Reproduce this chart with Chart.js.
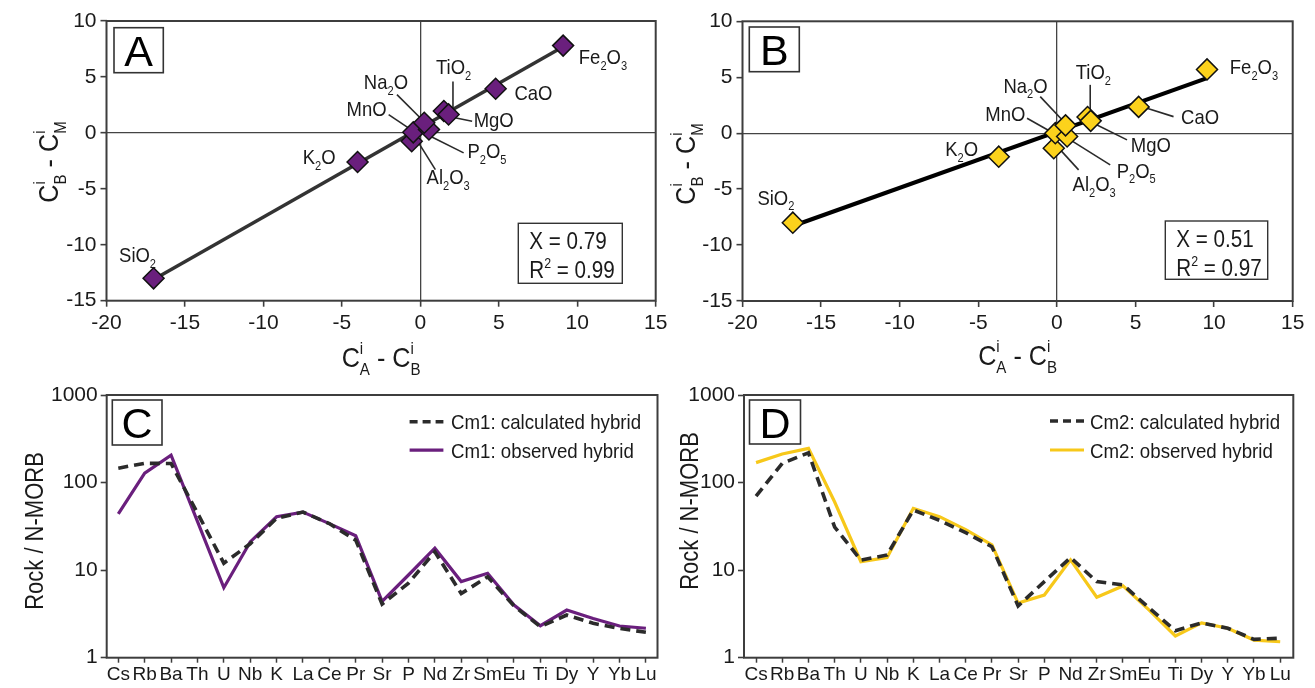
<!DOCTYPE html>
<html><head><meta charset="utf-8">
<script src="https://cdn.jsdelivr.net/npm/chart.js@4.4.1/dist/chart.umd.min.js"></script>
<style>
html,body{margin:0;padding:0;background:#fff;width:1315px;height:688px;overflow:hidden}
canvas{position:absolute;left:0;top:0}
</style></head><body>
<canvas id="cA" width="1315" height="688"></canvas>
<canvas id="cB" width="1315" height="688"></canvas>
<canvas id="cC" width="1315" height="688"></canvas>
<canvas id="cD" width="1315" height="688"></canvas>
<script>
// ---------------- DATA ----------------
const oxides = ['SiO_2','K_2O','Al_2O_3','MnO','P_2O_5','Na_2O','TiO_2','MgO','CaO','Fe_2O_3'];
// Panel A : x = C_A - C_B , y = C_B - C_M
const dxA = [-17.0, -4.0, -0.55, -0.45, 0.55, 0.25, 1.5, 1.8, 4.8, 9.1];
const dyA = [-13.0, -2.6, -0.75, 0.05, 0.3, 0.9, 1.95, 1.65, 3.95, 7.8];
const fitXA = [-17.0, 9.1];
const fitYA = [-13.1, 7.7];
const statsA = ['X = 0.79', 'R^2 = 0.99'];
// Panel B
const dxB = [-16.8, -3.7, -0.2, -0.1, 0.65, 0.55, 1.95, 2.15, 5.2, 9.55];
const dyB = [-8.0, -2.1, -1.35, 0.0, -0.3, 0.7, 1.45, 1.1, 2.35, 5.7];
const fitXB = [-16.8, 9.5];
const fitYB = [-8.3, 4.9];
const statsB = ['X = 0.51', 'R^2 = 0.97'];
const xTicksAB = [-20, -15, -10, -5, 0, 5, 10, 15];
const yTicksAB = [-15, -10, -5, 0, 5, 10];
// Panels C, D : spider diagrams (Rock / N-MORB)
const elements = ['Cs','Rb','Ba','Th','U','Nb','K','La','Ce','Pr','Sr','P','Nd','Zr','Sm','Eu','Ti','Dy','Y','Yb','Lu'];
const cm1Calc = [146, 166, 165, 45, 12, 20, 39, 46, 34, 22, 4.1, 7.1, 16.2, 5.4, 8.4, 3.9, 2.26, 3.07, 2.47, 2.16, 1.95];
const cm1Obs  = [44, 128, 205, 36, 6.3, 21, 40.7, 46, 34, 24.7, 4.4, 8.8, 17.8, 7.4, 9.2, 4.0, 2.32, 3.5, 2.8, 2.3, 2.17];
const cm2Calc = [70, 166, 219, 31, 13, 14.9, 48.6, 37, 26.8, 18.5, 3.9, 7.4, 13.9, 7.4, 6.8, 3.7, 2.03, 2.5, 2.17, 1.62, 1.67];
const cm2Obs  = [169, 212, 246, 60, 12.5, 13.9, 50.8, 40.8, 29, 19.4, 4.2, 5.2, 13.1, 4.9, 6.6, 3.5, 1.77, 2.5, 2.17, 1.59, 1.52];
const yTicksLog = [1, 10, 100, 1000];

// ---------------- FONTS ----------------
const FF = '"Liberation Sans", Arial, sans-serif';
Chart.defaults.font.family = FF;
Chart.defaults.color = '#1a1a1a';

const PURPLE = '#6a1f7d';
const YELLOW = '#fcd21c';
const YLINE = '#f7c81a';
const AXC = '#3d3d3d';
const TXT = '#1a1a1a';

// ---------------- HELPERS ----------------
function richTokens(s){
  const out=[]; let i=0;
  while(i<s.length){
    const ch=s[i];
    if(ch==='^' && s[i+2]==='_'){ out.push({k:'ss', sup:s[i+1], sub:s[i+3]}); i+=4; }
    else if(ch==='^'){ out.push({k:'sup', t:s[i+1]}); i+=2; }
    else if(ch==='_'){ out.push({k:'sub', t:s[i+1]}); i+=2; }
    else { let j=i; while(j<s.length && s[j]!=='^' && s[j]!=='_') j++; out.push({k:'n', t:s.slice(i,j)}); i=j; }
  }
  return out;
}
// draws text with sub/superscripts; sx = horizontal condensing factor
function drawRich(ctx, s, x, y, size, align, sx){
  sx = sx || 1;
  const small = size*0.6;
  const fMain = size+'px '+FF, fSmall = small+'px '+FF;
  const toks = richTokens(s);
  let w=0;
  for(const t of toks){
    ctx.font = t.k==='n' ? fMain : fSmall;
    t.w = t.k==='ss' ? Math.max(ctx.measureText(t.sup).width, ctx.measureText(t.sub).width) : ctx.measureText(t.t).width;
    w += t.w;
  }
  const W = w*sx;
  const x0 = align==='center' ? x-W/2 : (align==='right' ? x-W : x);
  ctx.save();
  ctx.translate(x0, y); ctx.scale(sx, 1);
  ctx.textAlign='left'; ctx.textBaseline='alphabetic';
  let cx = 0;
  for(const t of toks){
    if(t.k==='n'){ ctx.font=fMain; ctx.fillText(t.t, cx, 0); }
    else {
      ctx.font=fSmall;
      if(t.k==='sub') ctx.fillText(t.t, cx, size*0.27);
      if(t.k==='sup') ctx.fillText(t.t, cx, -size*0.42);
      if(t.k==='ss'){ ctx.fillText(t.sub, cx, size*0.27); ctx.fillText(t.sup, cx, -size*0.47); }
    }
    cx += t.w;
  }
  ctx.restore();
  return W;
}
function boxRect(ctx, x0, y0, x1, y1, lw){
  ctx.fillStyle='#fff'; ctx.fillRect(x0,y0,x1-x0,y1-y0);
  ctx.lineWidth=lw; ctx.strokeStyle='#333'; ctx.strokeRect(x0,y0,x1-x0,y1-y0);
}

// ---------------- PANEL DECORATION ----------------
function panelPlugin(cfg){
  return {
    id:'panel'+cfg.letter,
    beforeDatasetsDraw(chart){
      const ctx=chart.ctx, x=chart.scales.x, y=chart.scales.y;
      ctx.save(); ctx.strokeStyle='#2a2a2a'; ctx.lineWidth=1.6;
      for(const a of (cfg.annots||[])){
        if(!a.lead) continue;
        ctx.beginPath();
        ctx.moveTo(x.getPixelForValue(a.lead[0][0]), y.getPixelForValue(a.lead[0][1]));
        ctx.lineTo(x.getPixelForValue(a.lead[1][0]), y.getPixelForValue(a.lead[1][1]));
        ctx.stroke();
      }
      ctx.restore();
    },
    afterDraw(chart){
      const ctx=chart.ctx, ca=chart.chartArea, x=chart.scales.x, y=chart.scales.y;
      ctx.save();
      // frame
      ctx.lineWidth=2; ctx.strokeStyle=AXC; ctx.strokeRect(ca.left, ca.top, ca.right-ca.left, ca.bottom-ca.top);
      ctx.fillStyle=TXT;
      // point labels
      const ls = 21;
      for(const a of (cfg.annots||[])){
        drawRich(ctx, a.t, x.getPixelForValue(a.at[0]), y.getPixelForValue(a.at[1]) + ls*0.36, ls, 'left', 0.88);
      }
      // letter box
      const lb=cfg.lbox; boxRect(ctx, lb[0], lb[1], lb[2], lb[3], 1.6);
      ctx.fillStyle='#000'; ctx.font='43px '+FF; ctx.textAlign='center'; ctx.textBaseline='alphabetic';
      ctx.fillText(cfg.letter, (lb[0]+lb[2])/2, (lb[1]+lb[3])/2 + 15.5);
      // stats box
      if(cfg.stats){
        const sb=cfg.sbox; boxRect(ctx, sb[0], sb[1], sb[2], sb[3], 1.4);
        ctx.fillStyle=TXT;
        drawRich(ctx, cfg.stats[0], sb[0]+11, sb[1]+26, 24, 'left', 0.86);
        drawRich(ctx, cfg.stats[1], sb[0]+11, sb[1]+55, 24, 'left', 0.86);
      }
      // axis titles
      ctx.fillStyle=TXT;
      if(cfg.xTitle){
        drawRich(ctx, cfg.xTitle.t, (ca.left+ca.right)/2, cfg.xTitle.y, 28, 'center', 0.9);
      }
      if(cfg.yTitle){
        ctx.save(); ctx.translate(cfg.yTitle.x, cfg.yTitle.cy); ctx.rotate(-Math.PI/2);
        drawRich(ctx, cfg.yTitle.t, 0, 0, cfg.yTitle.size, 'center', cfg.yTitle.sx);
        ctx.restore();
      }
      // legend from datasets
      if(cfg.legend){
        const L=cfg.legend;
        chart.data.datasets.forEach((ds,i)=>{
          const yy = L.y + i*L.dy;
          ctx.save();
          ctx.strokeStyle=ds.borderColor; ctx.lineWidth=ds.borderWidth;
          ctx.setLineDash(ds.legendDash || []);
          ctx.beginPath(); ctx.moveTo(L.x0, yy); ctx.lineTo(L.x1, yy); ctx.stroke();
          ctx.restore();
          ctx.fillStyle=TXT;
          drawRich(ctx, ds.label, L.tx, yy + 7.5, 21, 'left', 0.89);
        });
      }
      ctx.restore();
    }
  };
}

function fixedAxes(xh, yw){
  return {
    x: s => { s.height = xh; s.paddingLeft = 0; s.paddingRight = 0; },
    y: s => { s.width = yw; s.paddingTop = 0; s.paddingBottom = 0; }
  };
}

// ---------------- SCATTER PANELS A/B ----------------
function scatterPanel(id, rect, dx, dy, fitX, fitY, fill, lineColor, lineW, cfg){
  const YW=70, XH=60;
  const pts = dx.map((v,i)=>({x:v, y:dy[i]}));
  const fit = fitX.map((v,i)=>({x:v, y:fitY[i]}));
  const fa = fixedAxes(XH, YW);
  return new Chart(document.getElementById(id), {
    type:'scatter',
    data:{ datasets:[
      { label:'oxides', data:pts, pointStyle:'rectRot', pointRadius:10.5, backgroundColor:fill, borderColor:'#111', borderWidth:1.5, order:0 },
      { label:'fit', data:fit, showLine:true, pointRadius:0, borderColor:lineColor, borderWidth:lineW, order:1 }
    ]},
    options:{
      responsive:false, animation:false, events:[], devicePixelRatio:1,
      layout:{ padding:{ left:rect.l-YW, top:rect.t, right:1315-rect.r, bottom:688-rect.b-XH } },
      plugins:{ legend:{display:false}, tooltip:{enabled:false} },
      scales:{
        x:{ type:'linear', min:-20, max:15,
            afterBuildTicks: s=>{ s.ticks = xTicksAB.map(v=>({value:v})); },
            afterFit: fa.x,
            border:{display:false},
            grid:{ color: c => (c.tick && c.tick.value===0) ? '#444' : 'rgba(0,0,0,0)', lineWidth:1.3, tickColor:AXC, tickLength:6, tickWidth:1.6 },
            ticks:{ font:{size:21}, padding:4, maxRotation:0, autoSkip:false, color:TXT } },
        y:{ type:'linear', min:-15, max:10,
            afterBuildTicks: s=>{ s.ticks = yTicksAB.map(v=>({value:v})); },
            afterFit: fa.y,
            border:{display:false},
            grid:{ color: c => (c.tick && c.tick.value===0) ? '#444' : 'rgba(0,0,0,0)', lineWidth:1.3, tickColor:AXC, tickLength:6, tickWidth:1.6 },
            ticks:{ font:{size:21}, padding:4, color:TXT } }
      }
    },
    plugins:[panelPlugin(cfg)]
  });
}

const annotA = [
  {t:'Fe_2O_3', at:[10.1, 6.8]},
  {t:'CaO', at:[6.0, 3.6]},
  {t:'TiO_2', at:[1.0, 5.9], lead:[[2.08,4.6],[2.08,2.1]]},
  {t:'MgO', at:[3.4, 1.2], lead:[[1.5,1.55],[3.3,1.04]]},
  {t:'Na_2O', at:[-3.6, 4.6], lead:[[-1.49,3.42],[0.21,1.04]]},
  {t:'MnO', at:[-4.7, 2.2], lead:[[-2.02,1.63],[-0.43,0.14]]},
  {t:'P_2O_5', at:[3.0, -1.6], lead:[[0.64,-0.3],[2.76,-1.79]]},
  {t:'Al_2O_3', at:[0.4, -3.9], lead:[[-0.11,-0.89],[0.96,-3.28]]},
  {t:'K_2O', at:[-7.5, -2.1]},
  {t:'SiO_2', at:[-19.2, -10.9]}
];
const annotB = [
  {t:'Fe_2O_3', at:[11.0, 5.95]},
  {t:'CaO', at:[7.9, 1.5], lead:[[5.73,2.23],[7.42,1.48]]},
  {t:'TiO_2', at:[1.2, 5.5], lead:[[2.12,4.32],[2.12,1.64]]},
  {t:'MgO', at:[4.7, -1.05], lead:[[2.33,0.89],[4.46,-0.6]]},
  {t:'Na_2O', at:[-3.4, 4.3], lead:[[-1.06,3.27],[0.43,1.04]]},
  {t:'MnO', at:[-4.55, 1.8], lead:[[-1.9,1.34],[-0.21,0.0]]},
  {t:'P_2O_5', at:[3.8, -3.3], lead:[[0.85,-0.6],[3.39,-2.83]]},
  {t:'Al_2O_3', at:[1.0, -4.5], lead:[[0.22,-1.49],[1.38,-3.28]]},
  {t:'K_2O', at:[-7.1, -1.35]},
  {t:'SiO_2', at:[-19.05, -5.7]}
];

scatterPanel('cA', {l:106.5,t:21,r:655.7,b:300.7}, dxA, dyA, fitXA, fitYA, PURPLE, '#333333', 3.5, {
  letter:'A', annots:annotA, lbox:[114,27.7,163.3,72.7], stats:statsA, sbox:[518.3,223.3,622.3,283.3],
  xTitle:{t:'C^i_A - C^i_B', y:367}, yTitle:{t:'C^i_B - C^i_M', x:58, cy:162, size:28, sx:0.9}
});
scatterPanel('cB', {l:742.5,t:21.3,r:1292.7,b:301}, dxB, dyB, fitXB, fitYB, YELLOW, '#000000', 4.2, {
  letter:'B', annots:annotB, lbox:[749.3,27,799.3,71.7], stats:statsB, sbox:[1165.3,221,1267.7,279.3],
  xTitle:{t:'C^i_A - C^i_B', y:365}, yTitle:{t:'C^i_B - C^i_M', x:695, cy:164, size:28, sx:0.9}
});

// ---------------- SPIDER PANELS C/D ----------------
function spiderPanel(id, rect, xmin, xmax, calc, obs, calcLabel, obsLabel, obsColor, cfg){
  const YW=70, XH=28;
  const fa = fixedAxes(XH, YW);
  const toPts = arr => arr.map((v,i)=>({x:i, y:v}));
  return new Chart(document.getElementById(id), {
    type:'line',
    data:{ datasets:[
      { label:calcLabel, data:toPts(calc), borderColor:'#2b2b2b', borderWidth:3.6, borderDash:[10,6], legendDash:[8,5], pointRadius:0, fill:false, tension:0, order:0 },
      { label:obsLabel, data:toPts(obs), borderColor:obsColor, borderWidth:3.2, pointRadius:0, fill:false, tension:0, order:1 }
    ]},
    options:{
      responsive:false, animation:false, events:[], devicePixelRatio:1,
      layout:{ padding:{ left:rect.l-YW, top:rect.t, right:1315-rect.r, bottom:688-rect.b-XH } },
      plugins:{ legend:{display:false}, tooltip:{enabled:false} },
      scales:{
        x:{ type:'linear', min:xmin, max:xmax,
            afterBuildTicks: s=>{ s.ticks = elements.map((e,i)=>({value:i})); },
            afterFit: fa.x,
            border:{display:false},
            grid:{ drawOnChartArea:false, color:AXC, tickColor:AXC, tickLength:5, tickWidth:1.5 },
            ticks:{ font:{size:19}, padding:1, maxRotation:0, autoSkip:false, color:TXT,
                    callback: v => elements[v] } },
        y:{ type:'logarithmic', min:1, max:1000,
            afterBuildTicks: s=>{ s.ticks = yTicksLog.map(v=>({value:v})); },
            afterFit: fa.y,
            border:{display:false},
            grid:{ drawOnChartArea:false, color:AXC, tickColor:AXC, tickLength:6, tickWidth:1.6 },
            ticks:{ font:{size:21}, padding:3, color:TXT, callback: v => String(v) } }
      }
    },
    plugins:[panelPlugin(cfg)]
  });
}

spiderPanel('cC', {l:106.7,t:395,r:657.5,b:657.7}, -0.44, 20.44, cm1Calc, cm1Obs,
  'Cm1: calculated hybrid', 'Cm1: observed hybrid', PURPLE, {
  letter:'C', lbox:[112.3,400,162,445],
  yTitle:{t:'Rock / N-MORB', x:43, cy:531, size:25, sx:0.88},
  legend:{x0:409.6, x1:443.4, tx:451, y:421.7, dy:28.5}
});
spiderPanel('cD', {l:744,t:395,r:1293.3,b:657.7}, -0.46, 20.5, cm2Calc, cm2Obs,
  'Cm2: calculated hybrid', 'Cm2: observed hybrid', YLINE, {
  letter:'D', lbox:[749.5,400,800.5,444],
  yTitle:{t:'Rock / N-MORB', x:698, cy:511, size:25, sx:0.88},
  legend:{x0:1050, x1:1084, tx:1090, y:421, dy:29}
});
</script>
</body></html>
